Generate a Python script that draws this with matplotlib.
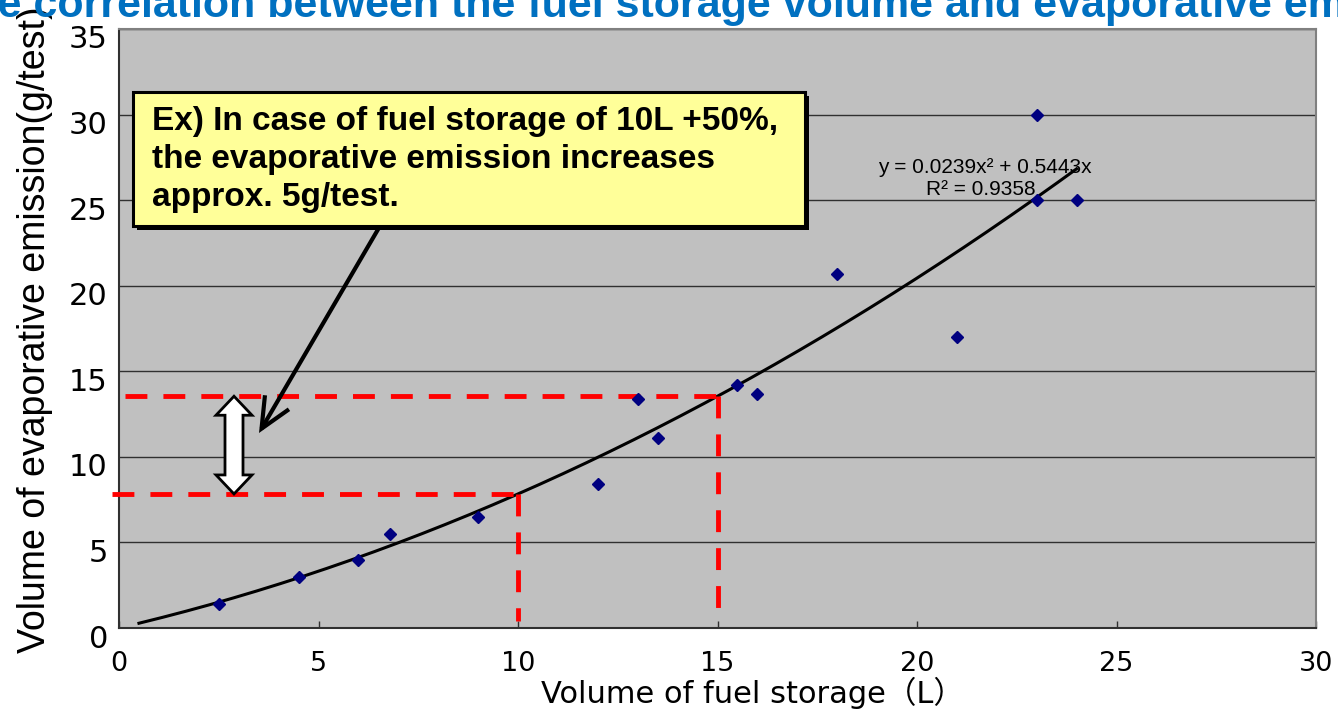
import matplotlib
matplotlib.use("Agg")
import matplotlib.pyplot as plt
import numpy as np
from matplotlib.patches import Rectangle, Polygon, FancyArrowPatch
from matplotlib.transforms import ScaledTranslation, IdentityTransform

# ---------------- data ----------------
storage_l = [2.5, 4.5, 6.0, 6.8, 9.0, 12.0, 13.0, 13.5, 15.5, 16.0, 18.0, 21.0, 23.0, 23.0, 24.0]
emission = [1.4, 3.0, 4.0, 5.5, 6.5, 8.4, 13.4, 11.1, 14.2, 13.7, 20.7, 17.0, 30.0, 25.0, 25.0]
coef_a = 0.0239
coef_b = 0.5443
r_squared = 0.9358
trend_range = [0.5, 24.0]
base_storage = 10
increased_storage = 15
x_ticks = [0, 5, 10, 15, 20, 25, 30]
y_ticks = [0, 5, 10, 15, 20, 25, 30, 35]
title = "The correlation between the fuel storage volume and evaporative emission"
x_label = "Volume of fuel storage（L）"
y_label = "Volume of evaporative emission(g/test)"
note = ("Ex) In case of fuel storage of 10L +50%,\n"
        "the evaporative emission increases\n"
        "approx. 5g/test.")
eq_line1 = "y = %.4fx² + %.4fx" % (coef_a, coef_b)
eq_line2 = "R² = %.4f" % r_squared

W, H = 1338, 716
fig = plt.figure(figsize=(W / 100, H / 100), dpi=100)
fig.patch.set_facecolor("white")


def fx(px):
    return px / W


def fy(py):
    return 1 - py / H


ax = fig.add_axes([fx(119), fy(628), 1197 / W, 599 / H])
ax.set_facecolor("#C0C0C0")
ax.set_xlim(0, 30)
ax.set_ylim(0, 35)
ax.set_xticks(x_ticks)
ax.set_yticks(y_ticks)
ax.set_xticklabels([str(v) for v in x_ticks], fontsize=19.5, family="DejaVu Sans")
ax.set_yticklabels([str(v) for v in y_ticks], fontsize=22, family="DejaVu Sans")
ax.tick_params(axis="x", direction="in", length=5, width=1, color="#303030", pad=16.5)
ax.tick_params(axis="y", length=0, pad=8)
ax.yaxis.grid(True, color="#303030", lw=1.0)
ax.set_axisbelow(True)
for side in ["left", "bottom"]:
    ax.spines[side].set_color("#303030")
    ax.spines[side].set_linewidth(1.5)
for side in ["top", "right"]:
    ax.spines[side].set_color("#808080")
    ax.spines[side].set_linewidth(1.5)

off = ScaledTranslation(0, -8 / 100, fig.dpi_scale_trans)
for lab in ax.get_yticklabels():
    lab.set_transform(lab.get_transform() + off)


def trend(x):
    return coef_a * np.asarray(x) ** 2 + coef_b * np.asarray(x)


# scatter
ax.plot(storage_l, emission, linestyle="none", marker="D", markersize=6.5,
        color="#000080", zorder=4)

# trend line
xt = np.linspace(trend_range[0], trend_range[1], 200)
ax.plot(xt, trend(xt), color="black", lw=2.2, zorder=3)

# red dashed guide lines
y10 = float(trend(base_storage))
y15 = float(trend(increased_storage))
red_kw = dict(color="#FF0000", lw=3.5, dashes=(4.5, 3.3), zorder=3.5)
ax.plot([-0.17, base_storage], [y10, y10], clip_on=False, **red_kw)
ax.plot([base_storage, base_storage], [y10, 0.4], **red_kw)
ax.plot([0.15, increased_storage], [y15, y15], **red_kw)
ax.plot([increased_storage, increased_storage], [y15, 0.4], **red_kw)

# equation text (trendline label)
eq_kw = dict(family="Liberation Sans", color="black", transform=fig.transFigure,
             zorder=2.5, clip_on=False, fontsize=15, ha="center", va="baseline")
ax.text(fx(985), fy(173), eq_line1, **eq_kw)
ax.text(fx(981), fy(195), eq_line2, **eq_kw)

# note box with shadow
shadow = Rectangle((fx(137), fy(230)), (805 - 133) / W, (226 - 92) / H,
                   transform=fig.transFigure, facecolor="black", edgecolor="black",
                   lw=0, zorder=5)
box = Rectangle((fx(133), fy(226)), (805 - 133) / W, (226 - 92) / H,
                transform=fig.transFigure, facecolor="#FFFF99", edgecolor="black",
                lw=2.2, zorder=6)
fig.add_artist(shadow)
fig.add_artist(box)
fig.text(fx(152), fy(106), note, fontsize=24, fontweight="bold",
         family="Liberation Sans", ha="left", va="top", linespacing=1.3,
         color="black", zorder=7)

# black arrow from box
arr = FancyArrowPatch((fx(380), fy(226)), (fx(259), fy(433)),
                      transform=fig.transFigure,
                      arrowstyle="->,head_length=22,head_width=10",
                      mutation_scale=1, lw=3, color="black", zorder=5,
                      shrinkA=0, shrinkB=0, joinstyle="miter", capstyle="butt")
fig.add_artist(arr)

# white double arrow between the two levels
fig.canvas.draw()
_, p_top = ax.transData.transform((0, y15))
_, p_bot = ax.transData.transform((0, y10))
xd = 234
hw_shaft, hw_head, hl = 9, 18, 19
verts = [
    (xd, p_top),
    (xd + hw_head, p_top - hl),
    (xd + hw_shaft, p_top - hl),
    (xd + hw_shaft, p_bot + hl),
    (xd + hw_head, p_bot + hl),
    (xd, p_bot),
    (xd - hw_head, p_bot + hl),
    (xd - hw_shaft, p_bot + hl),
    (xd - hw_shaft, p_top - hl),
    (xd - hw_head, p_top - hl),
]
darrow = Polygon(verts, closed=True, transform=IdentityTransform(),
                 facecolor="white", edgecolor="black", lw=2, zorder=5,
                 joinstyle="miter")
fig.add_artist(darrow)

# axis labels
fig.text(fx(752), fy(703), x_label, fontsize=22,
         family=["DejaVu Sans", "Noto Sans CJK JP"], ha="center", va="baseline")
fig.text(fx(45), fy(330), y_label, fontsize=27, family="Liberation Sans",
         rotation=90, rotation_mode="anchor", ha="center", va="baseline")

# title (left part runs off the canvas as in the reference)
title_kw = dict(fontsize=31, fontweight="bold", family="Liberation Sans",
                color="#0070C0")
renderer = fig.canvas.get_renderer()
probe = fig.text(0, 0, title[:2], **title_kw)
w_th = probe.get_window_extent(renderer).width
probe.remove()
fig.text(fx(-w_th - 2), fy(17), title, ha="left", va="baseline", **title_kw)

fig.savefig("out.png", dpi=100)
